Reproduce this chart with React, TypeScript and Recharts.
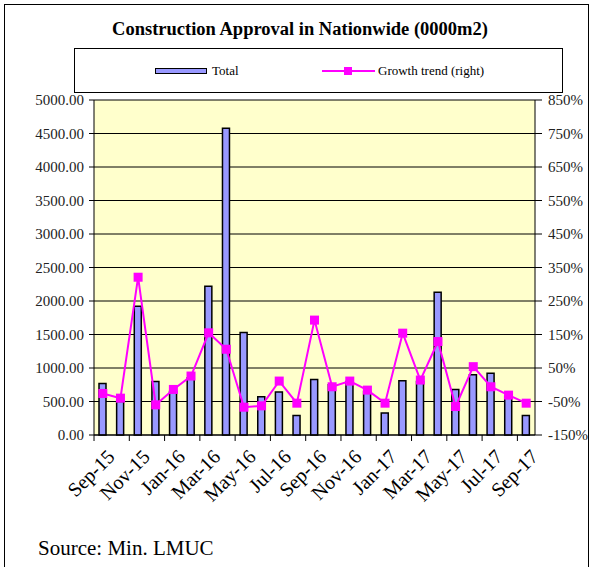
import { ComposedChart, Bar, Line, XAxis, YAxis, CartesianGrid } from 'recharts';

const months = [
  'Sep-15', 'Oct-15', 'Nov-15', 'Dec-15', 'Jan-16', 'Feb-16', 'Mar-16', 'Apr-16', 'May-16',
  'Jun-16', 'Jul-16', 'Aug-16', 'Sep-16', 'Oct-16', 'Nov-16', 'Dec-16', 'Jan-17', 'Feb-17',
  'Mar-17', 'Apr-17', 'May-17', 'Jun-17', 'Jul-17', 'Aug-17', 'Sep-17',
];
const totals = [
  770, 500, 1920, 800, 650, 850, 2220, 4580, 1530, 570, 640, 290, 830,
  750, 800, 650, 330, 810, 800, 2130, 680, 900, 920, 580, 290,
];
const growth = [
  -26, -40, 321, -60, -14, 26, 155, 106, -67, -63, 11, -55, 193,
  -6, 11, -16, -55, 154, 14, 129, -65, 54, -6, -31, -55,
];
const leftTicks = [0, 500, 1000, 1500, 2000, 2500, 3000, 3500, 4000, 4500, 5000];
const rightTicks = [-150, -50, 50, 150, 250, 350, 450, 550, 650, 750, 850];

const data = months.map((m, i) => ({ month: m, total: totals[i], growth: growth[i] }));

const serif = '"Liberation Serif", "Times New Roman", serif';
const halfBand = 8.8; // half a category slot (440px / 25 / 2)

const SquareDot = (props: any) => {
  const { cx, cy } = props;
  if (cx == null || cy == null) return null;
  return <rect x={cx - 4.5} y={cy - 4.5} width={9} height={9} fill="#FF00FF" />;
};

// Excel-style: tick mark at the left edge of the category, rotated label
const MonthTick = (props: any) => {
  const { x, y, payload } = props;
  const ax = x + 3;
  const ay = y + 13;
  return (
    <g>
      <line x1={x - halfBand} x2={x - halfBand} y1={y} y2={y + 6} stroke="#000" />
      <text
        x={ax}
        y={ay}
        dy="0.71em"
        textAnchor="end"
        transform={`rotate(-45, ${ax}, ${ay})`}
        fontSize={20}
        fontFamily={serif}
        fill="#000"
      >
        {payload.value}
      </text>
    </g>
  );
};

export default function App() {
  return (
    <div style={{ position: 'absolute', left: 0, top: 0, width: 592, height: 567, background: '#fff', fontFamily: serif, overflow: 'hidden' }}>
      {/* outer frame */}
      <div style={{ position: 'absolute', left: 4, top: 4, width: 583, height: 580, border: '1px solid #000' }} />
      <div style={{ position: 'absolute', left: 0, top: 19, width: 600, textAlign: 'center', fontSize: 18.5, fontWeight: 'bold' }}>
        Construction Approval in Nationwide (0000m2)
      </div>
      {/* legend */}
      <div style={{ position: 'absolute', left: 74, top: 48, width: 487, height: 43, border: '1px solid #000', fontSize: 13 }}>
        <div style={{ position: 'absolute', left: 80, top: 19, width: 50, height: 4, background: '#9999FF', border: '1.5px solid #000' }} />
        <div style={{ position: 'absolute', left: 137, top: 14 }}>Total</div>
        <div style={{ position: 'absolute', left: 247, top: 21, width: 53, height: 2, background: '#FF00FF' }} />
        <div style={{ position: 'absolute', left: 269, top: 18, width: 8, height: 8, background: '#FF00FF' }} />
        <div style={{ position: 'absolute', left: 303, top: 14 }}>Growth trend (right)</div>
      </div>
      <div style={{ position: 'absolute', left: 0, top: 0 }}>
        <ComposedChart
          width={592}
          height={567}
          data={data}
          margin={{ top: 100, right: 0, left: 0, bottom: 0 }}
          style={{ fontFamily: serif }}
        >
          <CartesianGrid yAxisId="left" vertical={false} stroke="#000" fill="#FFFFCC" fillOpacity={1} />
          <XAxis
            dataKey="month"
            interval={1}
            height={132}
            tick={<MonthTick />}
            tickLine={false}
            tickSize={0}
            tickMargin={0}
            stroke="#000"
          />
          <YAxis
            yAxisId="left"
            width={94}
            domain={[0, 5000]}
            ticks={leftTicks}
            tickFormatter={(v: number) => v.toFixed(2)}
            tick={{ fontSize: 15, fill: '#222', fontFamily: serif }}
            tickSize={5}
            tickMargin={5}
            stroke="#000"
            interval={0}
          />
          <YAxis
            yAxisId="right"
            orientation="right"
            width={57}
            domain={[-150, 850]}
            ticks={rightTicks}
            tickFormatter={(v: number) => `${v}%`}
            tick={{ fontSize: 15, fill: '#222', fontFamily: serif }}
            tickSize={7}
            tickMargin={6}
            stroke="#000"
            interval={0}
          />
          <Bar yAxisId="left" dataKey="total" fill="#9999FF" stroke="#000" strokeWidth={1.5} barSize={7} isAnimationActive={false} />
          <Line
            yAxisId="right"
            dataKey="growth"
            stroke="#FF00FF"
            strokeWidth={2}
            dot={<SquareDot />}
            activeDot={false}
            isAnimationActive={false}
          />
        </ComposedChart>
      </div>
      <div style={{ position: 'absolute', left: 38, top: 536, fontSize: 21 }}>Source: Min. LMUC</div>
    </div>
  );
}
